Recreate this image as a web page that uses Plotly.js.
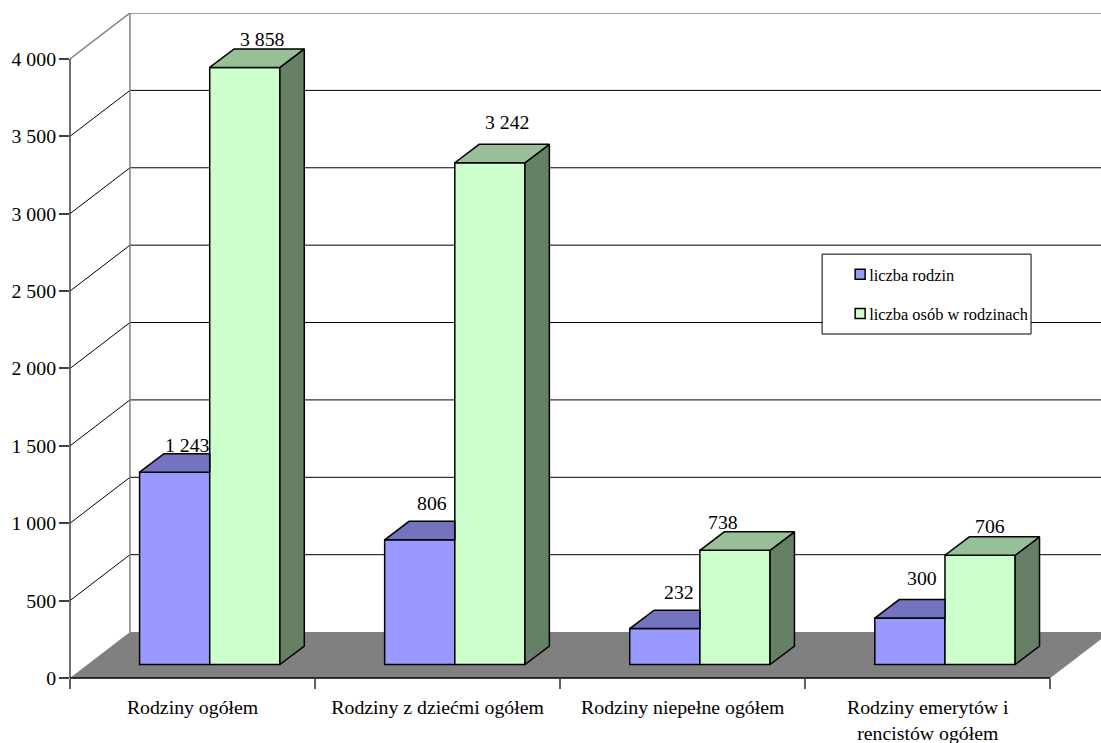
<!DOCTYPE html>
<html><head><meta charset="utf-8">
<script src="https://cdn.plot.ly/plotly-3.0.1.min.js"></script>
<style>html,body{margin:0;padding:0;background:#fff}</style></head>
<body><div id="chart" style="width:1101px;height:743px"></div>
<script>
const categories = ["Rodziny ogółem", "Rodziny z dziećmi ogółem", "Rodziny niepełne ogółem", "Rodziny emerytów i<br>rencistów ogółem"];
const families = [1243, 806, 232, 300];
const persons = [3858, 3242, 738, 706];
const seriesNames = ["liczba rodzin", "liczba osób w rodzinach"];
const valueTicks = [0, 500, 1000, 1500, 2000, 2500, 3000, 3500, 4000];
const valueTickText = ["0", "500", "1 000", "1 500", "2 000", "2 500", "3 000", "3 500", "4 000"];
const familyLabels = ["1 243", "806", "232", "300"];
const personLabels = ["3 858", "3 242", "738", "706"];

// Drawing geometry (pixels converted to axis units)
const W = 1101, H = 743, L = 69.5, B = 64.5, T = 12.5;
const pxCat = 245.2, pxVal = 0.155;
const xmin = -0.5, xmax = xmin + (W - L) / pxCat;
const ymax = (H - B - T) / pxVal;
const wallDx = 60 / pxCat, wallDy = 46 / pxVal;
const floorBase = 13.5 / pxVal;
const barW = 70.2 / pxCat, dDx = 24.4 / pxCat, dDy = 18.5 / pxVal;
const offA = -53 / pxCat, offB = offA + barW;
const labelShiftA = [[1, 9], [0, 18], [2, 18], [0, 22]];
const labelShiftB = [[5, 10], [5, 22], [-24, 10], [-2, 11]];

const BLUE = "#9999FF", BLUE_TOP = "#7373BF", GREEN = "#CCFFCC", GREEN_TOP = "#99BF99", GREEN_SIDE = "#668066";
const FONT = "Liberation Serif, Times New Roman, serif";
const idx = categories.map((_, i) => i);

function bar(vals, off, color, name) {
  return {type: "bar", name, x: idx, y: vals, base: floorBase, offset: off, width: barW,
    marker: {color, line: {color: "#000", width: 1.5}},
    legendgroup: name, customdata: vals, hovertemplate: "%{customdata}<extra>" + name + "</extra>"};
}
function faces(polyFn, vals, fill) {
  const x = [], y = [];
  vals.forEach((v, i) => { polyFn(i, v).forEach(p => { x.push(p[0]); y.push(p[1]); }); x.push(null); y.push(null); });
  return {type: "scatter", mode: "lines", x, y, fill: "toself", fillcolor: fill,
    line: {color: "#000", width: 1.5}, showlegend: false, hoverinfo: "skip"};
}
const topB = (i, v) => { const l = i + offB, t = floorBase + v;
  return [[l, t], [l + dDx, t + dDy], [l + barW + dDx, t + dDy], [l + barW, t], [l, t]]; };
const sideB = (i, v) => { const r = i + offB + barW, t = floorBase + v;
  return [[r, floorBase], [r + dDx, floorBase + dDy], [r + dDx, t + dDy], [r, t], [r, floorBase]]; };
// The taller neighbour's front face hides the rest of this top face.
const topA = (i, v) => { const l = i + offA, t = floorBase + v, r = i + offB;
  return [[l, t], [l + dDx, t + dDy], [r, t + dDy], [r, t], [l, t]]; };

const traces = [
  bar(families, offA, BLUE, seriesNames[0]),
  bar(persons, offB, GREEN, seriesNames[1]),
  faces(topA, families, BLUE_TOP),
  faces(sideB, persons, GREEN_SIDE),
  faces(topB, persons, GREEN_TOP)
];

const shapes = [];
const seg = (x0, y0, x1, y1, color, width) => shapes.push({type: "line", xref: "x", yref: "y", x0, y0, x1, y1, layer: "below", line: {color, width}});
// Floor
shapes.push({type: "path", xref: "x", yref: "y", layer: "below", fillcolor: "#808080", line: {width: 0},
  path: `M${xmin},0L${xmin + wallDx},${wallDy}L${xmin + 4 + wallDx},${wallDy}L${xmin + 4},0Z`});
// Back wall grid and side wall diagonals
valueTicks.forEach(v => {
  if (v > 0 && v < 4000) { seg(xmin + wallDx, v + wallDy, xmax, v + wallDy, "#000", 1); seg(xmin, v, xmin + wallDx, v + wallDy, "#000", 1); }
});
const topTick = valueTicks[valueTicks.length - 1];
seg(xmin + wallDx, topTick + wallDy, xmax, topTick + wallDy, "#808080", 1.5);
seg(xmin, topTick, xmin + wallDx, topTick + wallDy, "#808080", 1.5);
seg(xmin + wallDx, wallDy, xmin + wallDx, topTick + wallDy, "#808080", 1.5);
// Axis lines (paper refs so that they are not clipped at the plot edge)
const px = x => (x - xmin) / (xmax - xmin), py = y => y / ymax;
shapes.push({type: "line", xref: "paper", yref: "paper", x0: px(xmin), y0: py(0), x1: px(xmin), y1: py(topTick), line: {color: "#404040", width: 1.5}});
shapes.push({type: "line", xref: "paper", yref: "paper", x0: px(xmin), y0: py(0), x1: px(xmin + 4), y1: py(0), line: {color: "#000", width: 1.5}});
// Legend box
const pw = W - L, ph = H - B - T;
shapes.push({type: "rect", xref: "paper", yref: "paper", layer: "above",
  x0: (822 - L) / pw, x1: (1031 - L) / pw, y0: (H - B - 334) / ph, y1: (H - B - 254) / ph,
  fillcolor: "#fff", line: {color: "#000", width: 1}});

const annotations = [];
[[familyLabels, families, offA, labelShiftA], [personLabels, persons, offB, labelShiftB]].forEach(([txt, vals, off, sh]) => {
  vals.forEach((v, i) => annotations.push({xref: "x", yref: "y", x: i + off + barW / 2 + dDx / 2, y: floorBase + v + dDy,
    text: txt[i], showarrow: false, xanchor: "center", yanchor: "middle", xshift: sh[i][0], yshift: sh[i][1],
    font: {family: FONT, size: 19.8, color: "#000"}}));
});

const layout = {
  width: W, height: H, margin: {l: L, r: 0, t: T, b: B, pad: 0, autoexpand: false},
  paper_bgcolor: "#fff", plot_bgcolor: "rgba(0,0,0,0)",
  barmode: "overlay", font: {family: FONT, size: 19.8, color: "#000"},
  xaxis: {type: "linear", range: [xmin, xmax], tickmode: "array", tickvals: idx, ticktext: categories,
    ticks: "", showgrid: false, zeroline: false, showline: false, ticklabelstandoff: 15, tickangle: 0,
    minor: {tickmode: "array", tickvals: [-0.5, 0.5, 1.5, 2.5, 3.5], ticks: "outside", ticklen: 10, tickwidth: 1.5, tickcolor: "#606060", showgrid: false}},
  yaxis: {type: "linear", range: [0, ymax], tickmode: "array", tickvals: valueTicks, ticktext: valueTickText,
    ticks: "outside", ticklen: 10, tickwidth: 1.5, tickcolor: "#404040", showgrid: false, zeroline: false, showline: false, ticklabelstandoff: -1},
  showlegend: true,
  legend: {x: (822 - L) / pw, xanchor: "left", y: (H - B - 257) / ph, yanchor: "top", orientation: "v", traceorder: "grouped",
    bgcolor: "rgba(0,0,0,0)", borderwidth: 0, font: {family: FONT, size: 16.4, color: "#000"},
    itemwidth: 30, indentation: 18, tracegroupgap: 15, itemclick: false, itemdoubleclick: false},
  shapes, annotations
};
Plotly.newPlot("chart", traces, layout, {displayModeBar: false}).then(gd => {
  // Legend keys sit closer to their text than Plotly's fixed key width allows.
  gd.querySelectorAll(".legend .legendtext").forEach(t => t.setAttribute("x", Number(t.getAttribute("x")) - 11));
  gd.querySelectorAll(".legend .legendpoints path").forEach(p => p.setAttribute("d", "M5,5H-5V-5H5Z"));
});
</script></body></html>
